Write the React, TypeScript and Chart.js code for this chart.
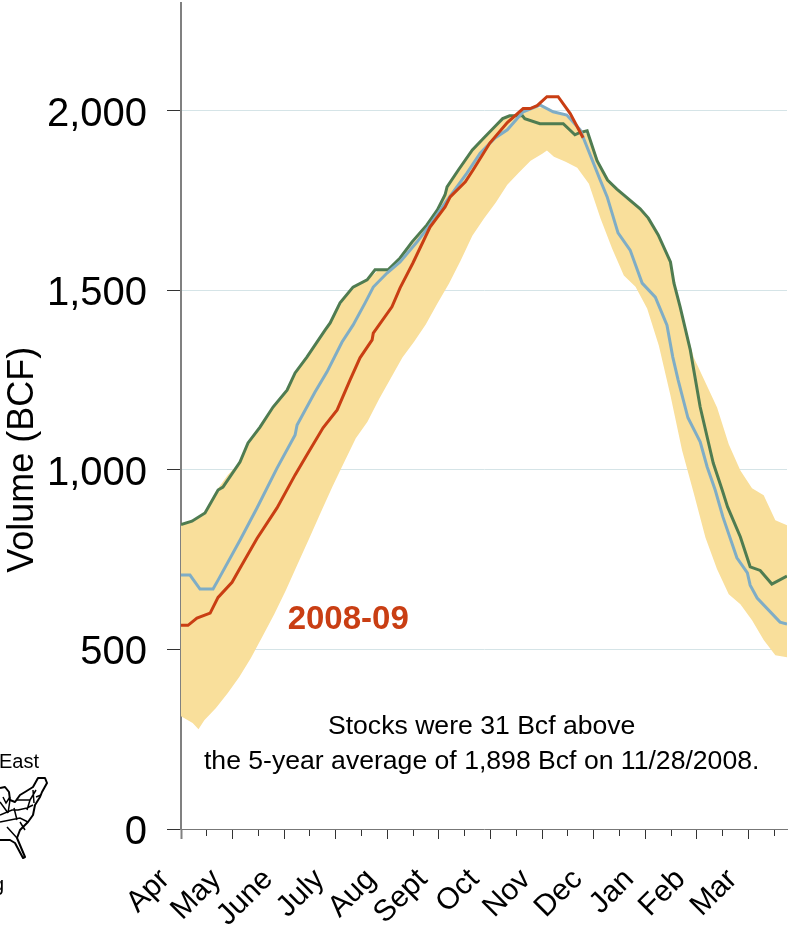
import { useEffect, useRef } from 'react';
import { Chart, registerables } from 'chart.js';

Chart.register(...registerables);

const monthLabels = ['Apr', 'May', 'June', 'July', 'Aug', 'Sept', 'Oct', 'Nov', 'Dec', 'Jan', 'Feb', 'Mar'];
const volumeTicks = [0, 500, 1000, 1500, 2000];
const axisTitle = 'Volume (BCF)';
const seasonLabel = '2008-09';
const noteLines = ['Stocks were 31 Bcf above', 'the 5-year average of 1,898 Bcf on 11/28/2008.'];

// x values are weeks since April 1, y values are BCF
const bandWeeks = [0, 1, 1.5, 2, 3, 4, 5, 6, 7, 8, 9, 10, 11, 12, 13, 14, 15, 16, 17, 18, 19, 20, 21, 22, 23, 24, 25, 26, 27, 28, 29, 30, 31, 31.4, 32, 33, 34, 35, 36, 37, 38, 39, 40, 41, 42, 43, 44, 45, 46, 47, 48, 49, 50, 51, 52];
const bandHigh = [848, 858, 870, 880, 940, 985, 1020, 1085, 1130, 1178, 1220, 1278, 1320, 1372, 1417, 1478, 1514, 1530, 1557, 1560, 1598, 1643, 1678, 1724, 1800, 1843, 1891, 1925, 1958, 1984, 1986, 2006, 2010, 2005, 1994, 1986, 1955, 1931, 1847, 1791, 1760, 1736, 1705, 1652, 1574, 1430, 1313, 1243, 1174, 1071, 998, 949, 929, 860, 846];
const bandLow = [314, 295, 278, 303, 337, 378, 423, 476, 537, 598, 665, 737, 809, 882, 954, 1021, 1088, 1134, 1197, 1255, 1313, 1357, 1405, 1463, 1519, 1583, 1652, 1700, 1744, 1794, 1828, 1861, 1880, 1889, 1872, 1858, 1841, 1797, 1700, 1616, 1541, 1510, 1449, 1346, 1207, 1054, 935, 812, 723, 654, 626, 581, 526, 484, 478];

const greenWeeks = [0, 0.94, 2.06, 3.18, 3.6, 5.06, 5.75, 6.78, 7.9, 9.1, 9.79, 10.8, 12.36, 12.8, 13.65, 14.76, 15.97, 16.65, 17.77, 18.8, 19.83, 21.1, 22, 22.66, 22.83, 23.8, 25, 26, 27, 27.6, 28.2, 29.3, 29.5, 30.8, 32.8, 33.8, 34.2, 34.85, 35.7, 36.6, 37.4, 39.4, 40.1, 40.95, 42, 42.3, 42.83, 43.7, 44.55, 45.67, 46.44, 46.9, 48, 48.84, 49.7, 50.7, 52];
const greenStocks = [848, 857, 880, 944, 952, 1022, 1075, 1119, 1175, 1222, 1270, 1314, 1389, 1409, 1465, 1509, 1529, 1557, 1557, 1590, 1635, 1682, 1724, 1766, 1788, 1835, 1891, 1925, 1958, 1978, 1986, 1986, 1978, 1964, 1964, 1933, 1939, 1944, 1861, 1807, 1782, 1727, 1701, 1654, 1579, 1520, 1454, 1334, 1175, 1019, 944, 897, 813, 730, 720, 682, 704];

const blueWeeks = [0, 0.77, 1.63, 2.75, 3.18, 5.06, 6.52, 8.24, 9.79, 9.96, 11.5, 12.53, 13.82, 14.76, 15.8, 16.5, 17.68, 18.8, 20.26, 21.37, 22.66, 24.55, 25.67, 26.95, 28, 29.36, 30.8, 31.93, 33.1, 34.25, 35.97, 36.57, 37.5, 38.54, 39.57, 40.7, 41.7, 42.2, 42.66, 43.5, 44.55, 45.15, 45.84, 46.5, 47.7, 48.6, 48.84, 49.44, 51.4, 52];
const blueStocks = [707, 707, 668, 668, 693, 804, 894, 1005, 1097, 1125, 1217, 1273, 1356, 1403, 1465, 1509, 1548, 1579, 1635, 1682, 1743, 1827, 1882, 1924, 1947, 1997, 2016, 1997, 1988, 1947, 1807, 1760, 1660, 1612, 1520, 1481, 1403, 1314, 1250, 1145, 1078, 1008, 944, 869, 755, 713, 679, 643, 576, 571];

const redWeeks = [0, 0.6, 1.37, 2.5, 3.18, 4.38, 5.06, 6.52, 8.24, 9.79, 10.9, 12.19, 13.4, 14.5, 15.36, 16.4, 16.5, 18.1, 18.8, 19.9, 21.37, 22.66, 23.1, 24.4, 25.06, 26.5, 28, 29.36, 29.96, 30.56, 31.4, 32.36, 33.4, 34.5];
const redStocks = [567, 567, 587, 601, 645, 687, 726, 809, 894, 986, 1047, 1117, 1167, 1250, 1312, 1362, 1381, 1454, 1507, 1576, 1676, 1732, 1760, 1802, 1835, 1910, 1967, 2006, 2006, 2014, 2039, 2039, 1992, 1925];

const FONT = '"Liberation Sans", Arial, sans-serif';
const WEEKS_PER_TICK = 2.213;

const toPoints = (xs: number[], ys: number[]) => xs.map((x, i) => ({ x, y: ys[i] }));

// labels that sit inside the plot, plus the axis title which is off centre
const notesPlugin = {
  id: 'notes',
  afterDatasetsDraw(chart: any) {
    const { ctx, scales } = chart;
    ctx.save();
    ctx.textAlign = 'left';
    ctx.textBaseline = 'alphabetic';
    ctx.fillStyle = '#c93e13';
    ctx.font = `bold 33px ${FONT}`;
    ctx.fillText(seasonLabel, scales.x.getPixelForValue(9.15), scales.y.getPixelForValue(558));
    ctx.textAlign = 'center';
    ctx.fillStyle = '#000';
    ctx.font = `26.6px ${FONT}`;
    ctx.fillText(noteLines[0], scales.x.getPixelForValue(25.8), scales.y.getPixelForValue(264));
    ctx.fillText(noteLines[1], scales.x.getPixelForValue(25.8), scales.y.getPixelForValue(168));
    ctx.translate(23, scales.y.getPixelForValue(1028));
    ctx.rotate(-Math.PI / 2);
    ctx.textBaseline = 'middle';
    ctx.font = `36px ${FONT}`;
    ctx.fillText(axisTitle, 0, 0);
    ctx.restore();
  },
};

function StorageChart() {
  const canvasRef = useRef<HTMLCanvasElement>(null);

  useEffect(() => {
    if (!canvasRef.current) return;

    const line = (label: string, xs: number[], ys: number[], color: string) => ({
      label,
      data: toPoints(xs, ys),
      borderColor: color,
      borderWidth: 3,
      pointRadius: 0,
      tension: 0,
      fill: false,
    });

    const chart = new Chart(canvasRef.current, {
      type: 'line',
      data: {
        datasets: [
          { ...line('Red', redWeeks, redStocks, '#c93e13') },
          { ...line('Blue', blueWeeks, blueStocks, '#7fadc6') },
          { ...line('Green', greenWeeks, greenStocks, '#4f7c51') },
          {
            label: 'High',
            data: toPoints(bandWeeks, bandHigh),
            borderWidth: 0,
            pointRadius: 0,
            backgroundColor: '#f9df9b',
            fill: '+1',
          },
          {
            label: 'Low',
            data: toPoints(bandWeeks, bandLow),
            borderWidth: 0,
            pointRadius: 0,
            fill: false,
          },
        ],
      } as any,
      options: {
        responsive: false,
        animation: false,
        layout: { padding: { top: 3, right: 3 } },
        plugins: { legend: { display: false }, tooltip: { enabled: false } },
        scales: {
          x: {
            type: 'linear',
            min: 0,
            max: 52,
            afterFit: (scale: any) => {
              scale.height = 97;
              scale.paddingLeft = 0;
              scale.paddingRight = 0;
            },
            afterBuildTicks: (scale: any) => {
              scale.ticks = Array.from({ length: 24 }, (_, i) => ({ value: i * WEEKS_PER_TICK }));
            },
            grid: {
              drawOnChartArea: false,
              tickLength: 10,
              tickColor: (c: any) => (c.index === 0 ? '#808080' : '#333'),
              tickWidth: (c: any) => (c.index === 0 ? 2 : 1),
              tickBorderDash: (c: any) => (c.index % 2 === 1 ? [6, 10] : []),
            },
            border: { color: '#777', width: 1 },
            ticks: {
              autoSkip: false,
              maxRotation: 45,
              minRotation: 45,
              padding: 23,
              labelOffset: -16,
              color: '#000',
              font: { family: FONT, size: 30 },
              callback: (_v: any, i: number) => (i % 2 === 0 ? monthLabels[i / 2] : ''),
            },
          },
          y: {
            min: 0,
            max: 2300,
            afterFit: (scale: any) => {
              scale.width = 181;
              scale.paddingTop = 0;
              scale.paddingBottom = 0;
            },
            afterBuildTicks: (scale: any) => {
              scale.ticks = volumeTicks.map((value) => ({ value }));
            },
            grid: {
              color: (c: any) => (c.tick && c.tick.value === 0 ? 'rgba(0,0,0,0)' : '#d5e4e7'),
              tickColor: '#333',
              tickLength: 14,
              lineWidth: 1,
            },
            border: { color: '#808080', width: 2 },
            ticks: {
              padding: 20,
              labelOffset: 4,
              color: '#000',
              font: { family: FONT, size: 40 },
              callback: (v: any) => Number(v).toLocaleString('en-US'),
            },
          },
        },
      } as any,
      plugins: [notesPlugin],
    });

    return () => chart.destroy();
  }, []);

  return <canvas ref={canvasRef} width={790} height={926} style={{ display: 'block' }} />;
}

// small regional map, cut by the left page edge
function RegionMap() {
  const outline = 'M0 788 L5 787 L9 792 L10 800 L15 802 L20 795 L25 792 L33 787 L38 778 L45 778 L47 783 L42 792 L40 797 L35 805 L33 815 L28 822 L20 830 L17 838 L25 857 L23 858 L15 843 L10 840 L0 840';
  const states = 'M0 815 L12 810 L18 810 L27 808 L33 805 M0 822 L20 818 L28 822 M7 827 L17 838 M17 800 L30 800 L27 810 M20 822 L25 830 M0 802 L8 813 M10 800 L8 813 M3 797 L6 803 L10 797 M30 800 L36 790 M14 808 L17 820 M33 790 L34 803 M36 797 L41 795';
  return (
    <svg width={50} height={90} viewBox="0 775 50 90" style={{ position: 'absolute', left: 0, top: 775 }}>
      <path d={outline} fill="none" stroke="#000" strokeWidth={2} strokeLinejoin="round" />
      <path d={states} fill="none" stroke="#000" strokeWidth={1.5} />
    </svg>
  );
}

export default function App() {
  return (
    <div style={{ position: 'absolute', left: 0, top: 0, width: 790, height: 926, overflow: 'hidden', background: '#fff' }}>
      <StorageChart />
      <RegionMap />
      <div style={{ position: 'absolute', left: -1, top: 750, font: `20px ${FONT}`, color: '#000' }}>East</div>
      <div style={{ position: 'absolute', left: -7, top: 873, font: `20px ${FONT}`, color: '#000' }}>g</div>
    </div>
  );
}
